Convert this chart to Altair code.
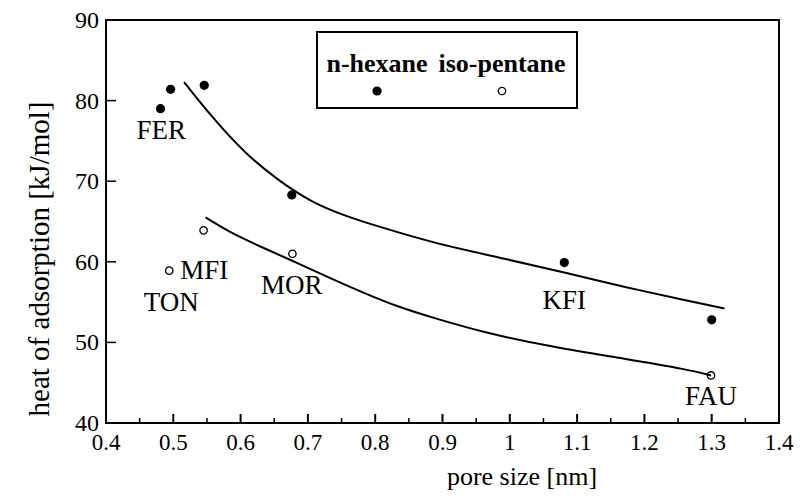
import altair as alt
import pandas as pd

# ---- data ----
hex_x = [0.481, 0.496, 0.546, 0.676, 1.081, 1.300]
hex_y = [79.0, 81.4, 81.9, 68.3, 59.9, 52.8]
iso_x = [0.494, 0.545, 0.677, 1.299]
iso_y = [58.9, 63.9, 61.0, 45.9]

fit_hex_x = [0.516, 0.558, 0.607, 0.656, 0.705, 0.755, 0.804, 0.888, 0.986, 1.085, 1.169, 1.267, 1.319]
fit_hex_y = [82.3, 77.9, 73.4, 70.1, 67.4, 65.7, 64.4, 62.3, 60.5, 58.6, 56.9, 55.1, 54.2]
fit_iso_x = [0.548, 0.587, 0.637, 0.686, 0.735, 0.784, 0.834, 0.888, 0.967, 1.065, 1.169, 1.267, 1.299]
fit_iso_y = [65.5, 63.5, 61.6, 59.8, 57.9, 56.1, 54.4, 53.0, 51.1, 49.4, 48.0, 46.6, 45.9]

label_text = ["FER", "MFI", "TON", "MOR", "KFI", "FAU"]
label_x = [0.482, 0.546, 0.497, 0.676, 1.081, 1.299]
label_y = [76.2, 58.9, 54.9, 57.0, 55.1, 43.2]

series_names = ["n-hexane", "iso-pentane"]

x_major = [0.4, 0.5, 0.6, 0.7, 0.8, 0.9, 1.0, 1.1, 1.2, 1.3, 1.4]
x_tick_labels = ["0.4", "0.5", "0.6", "0.7", "0.8", "0.9", "1", "1.1", "1.2", "1.3", "1.4"]
x_minor = [0.45, 0.55, 0.65, 0.75, 0.85, 0.95, 1.05, 1.15, 1.25, 1.35]
y_major = [40, 50, 60, 70, 80, 90]
y_tick_labels = ["40", "50", "60", "70", "80", "90"]

x_title = "pore size [nm]"
y_title = "heat of adsorption [kJ/mol]"

FONT = "Liberation Serif"
W, H = 673, 403

xs = alt.Scale(domain=[0.4, 1.4], nice=False, zero=False)
ys = alt.Scale(domain=[40, 90], nice=False, zero=False)
Xn = alt.X("x:Q", scale=xs, axis=None)
Yn = alt.Y("y:Q", scale=ys, axis=None)

hex_df = pd.DataFrame({"x": hex_x, "y": hex_y})
iso_df = pd.DataFrame({"x": iso_x, "y": iso_y})
fh_df = pd.DataFrame({"x": fit_hex_x, "y": fit_hex_y})
fi_df = pd.DataFrame({"x": fit_iso_x, "y": fit_iso_y})
lab_df = pd.DataFrame({"t": label_text, "x": label_x, "y": label_y})

hex_pts = alt.Chart(hex_df).mark_point(filled=True, color="black", size=85, opacity=1).encode(x=Xn, y=Yn)
iso_pts = alt.Chart(iso_df).mark_point(filled=False, color="black", size=55, strokeWidth=1.3, opacity=1).encode(
    x=Xn, y=Yn)

fit_h = alt.Chart(fh_df).mark_line(color="black", strokeWidth=2, interpolate="basis").encode(x=Xn, y=Yn)
fit_i = alt.Chart(fi_df).mark_line(color="black", strokeWidth=2, interpolate="basis").encode(x=Xn, y=Yn)

labels = alt.Chart(lab_df).mark_text(font=FONT, fontSize=27, color="black", align="center",
                                      baseline="middle").encode(x=Xn, y=Yn, text="t:N")

# inward ticks
xmaj = alt.Chart(pd.DataFrame({"x": x_major[1:-1]})).mark_rule(color="black", strokeWidth=2).encode(
    x=Xn, y=alt.value(H), y2=alt.value(H - 9))
xmin = alt.Chart(pd.DataFrame({"x": x_minor})).mark_rule(color="black", strokeWidth=1.5).encode(
    x=Xn, y=alt.value(H), y2=alt.value(H - 5))
ymaj = alt.Chart(pd.DataFrame({"y": y_major[1:-1]})).mark_rule(color="black", strokeWidth=1.5).encode(
    y=Yn, x=alt.value(0), x2=alt.value(10))

# tick labels
xlab = alt.Chart(pd.DataFrame({"x": x_major, "t": x_tick_labels})).mark_text(
    font=FONT, fontSize=23, color="black", align="center", baseline="middle").encode(
    x=Xn, y=alt.value(H + 20), text="t:N")
ylab = alt.Chart(pd.DataFrame({"y": y_major, "t": y_tick_labels})).mark_text(
    font=FONT, fontSize=24, color="black", align="right", baseline="middle", dy=1).encode(
    y=Yn, x=alt.value(-7), text="t:N")

# axis titles
xtit = alt.Chart(pd.DataFrame({"t": [x_title]})).mark_text(
    font=FONT, fontSize=26, color="black", align="center", baseline="middle").encode(
    x=alt.value(416), y=alt.value(H + 54), text="t:N")
ytit = alt.Chart(pd.DataFrame({"t": [y_title]})).mark_text(
    font=FONT, fontSize=29, color="black", align="center", baseline="middle", angle=270).encode(
    x=alt.value(-66), y=alt.value(239), text="t:N")

# legend box
leg_df = pd.DataFrame({"name": series_names, "px": [271, 396]})
leg_box = alt.Chart(pd.DataFrame({"a": [0]})).mark_rect(fill="white", stroke="black", strokeWidth=2).encode(
    x=alt.value(211), x2=alt.value(471), y=alt.value(12), y2=alt.value(88))
leg_text = alt.Chart(leg_df).mark_text(font=FONT, fontSize=26, fontWeight="bold", color="black",
                                       align="center", baseline="alphabetic").encode(
    x=alt.X("px:Q", scale=None), y=alt.value(52), text="name:N")
leg_fill = alt.Chart(leg_df.iloc[[0]]).mark_point(filled=True, color="black", size=85, opacity=1).encode(
    x=alt.X("px:Q", scale=None), y=alt.value(71))
leg_open = alt.Chart(leg_df.iloc[[1]]).mark_point(filled=False, color="black", size=55, strokeWidth=1.3,
                                                    opacity=1).encode(
    x=alt.X("px:Q", scale=None), y=alt.value(71))

chart = alt.layer(
    hex_pts, iso_pts, fit_h, fit_i, labels, xmaj, xmin, ymaj, xlab, ylab, xtit, ytit,
    leg_box, leg_text, leg_fill, leg_open
).properties(
    width=W, height=H,
    autosize=alt.AutoSizeParams(type="none"),
    padding={"left": 98, "top": 12, "right": 15, "bottom": 68},
    background="white",
).configure_view(
    stroke="black", strokeWidth=2
)

chart.save("out.html", embed_options={"renderer": "svg", "actions": False})
